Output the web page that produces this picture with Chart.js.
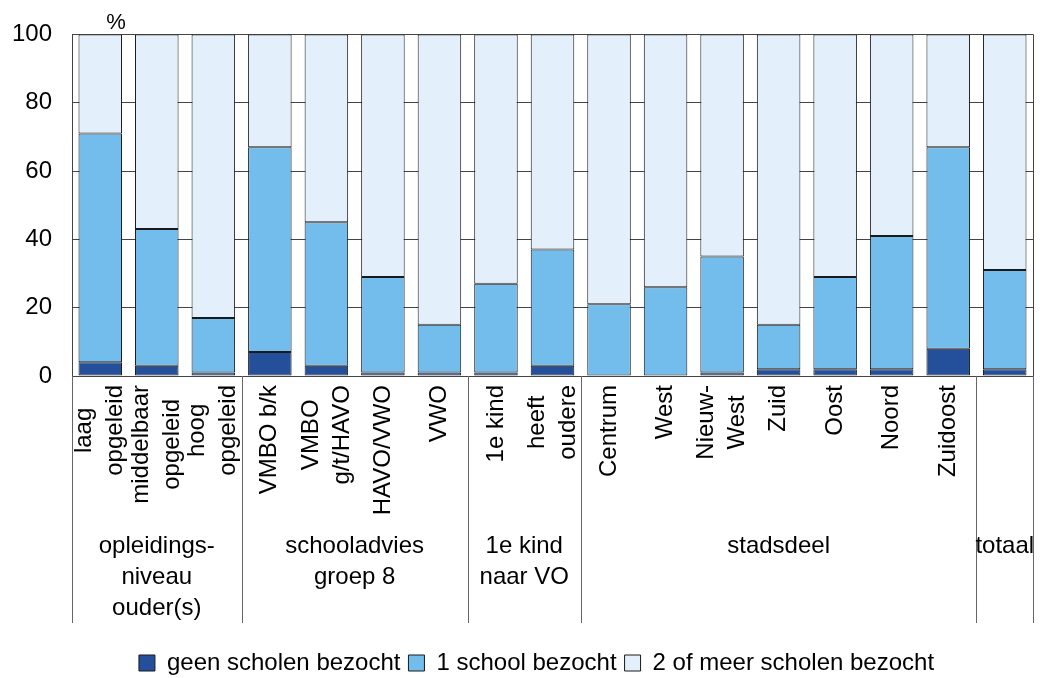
<!DOCTYPE html>
<html>
<head>
<meta charset="utf-8">
<script src="https://cdn.jsdelivr.net/npm/chart.js@4"></script>
<style>
html, body { margin: 0; padding: 0; background: #fff; }
#wrap { width: 1042px; height: 678px; }
</style>
</head>
<body>
<div id="wrap"><canvas id="grafiek"></canvas></div>
<script>
// categorieen (regels van het gedraaide label)
const categorieen = [
    ['laag', 'opgeleid'], ['middelbaar', 'opgeleid'], ['hoog', 'opgeleid'],
    ['VMBO b/k'], ['VMBO', 'g/t/HAVO'], ['HAVO/VWO'], ['VWO'],
    ['1e kind'], ['heeft', 'oudere'],
    ['Centrum'], ['West'], ['Nieuw-', 'West'], ['Zuid'], ['Oost'], ['Noord'], ['Zuidoost'],
    ['']
];

// groepen onder de as
const groepNamen = [['opleidings-', 'niveau', 'ouder(s)'], ['schooladvies', 'groep 8'], ['1e kind', 'naar VO'], ['stadsdeel'], ['totaal']];
const groepStart = [0, 3, 7, 9, 16];
const groepEind  = [2, 6, 8, 15, 16];

// percentages
const geenScholen   = [4, 3, 1, 7, 3, 1, 1, 1, 3, 0, 0, 1, 2, 2, 2, 8, 2];
const eenSchool     = [67, 40, 16, 60, 42, 28, 14, 26, 34, 21, 26, 34, 13, 27, 39, 59, 29];
const tweeOfMeer    = [29, 57, 83, 33, 55, 71, 85, 73, 63, 79, 74, 65, 85, 71, 59, 33, 69];

const reeksNamen = ['geen scholen bezocht', '1 school bezocht', '2 of meer scholen bezocht'];
const yTicks = [0, 20, 40, 60, 80, 100];

const FONT = '"Liberation Sans", Arial, sans-serif';

// legenda iets naar rechts, zoals in het origineel
const legendaSchuif = {
    id: 'legendaSchuif',
    afterLayout(chart) {
        if (chart.legend) chart.legend.left += 40;
    }
};

// tekst en lijnen onder de grafiek
const asTekst = {
    id: 'asTekst',
    afterDraw(chart) {
        const { ctx, chartArea: ca, scales: { x } } = chart;
        ctx.save();
        ctx.font = '24px ' + FONT;
        ctx.fillStyle = '#000';

        // gedraaide categorielabels
        categorieen.forEach((regels, i) => {
            const cx = x.getPixelForValue(i);
            const breedte = Math.max(...regels.map(r => ctx.measureText(r).width));
            const midY = ca.bottom + 9 + breedte / 2;
            regels.forEach((r, j) => {
                const lx = cx + (j - (regels.length - 1) / 2) * 31;
                ctx.save();
                ctx.translate(lx, midY);
                ctx.rotate(-Math.PI / 2);
                ctx.textAlign = 'center';
                ctx.textBaseline = 'middle';
                ctx.fillText(r, 0, 0);
                ctx.restore();
            });
        });

        // grenzen tussen groepen
        const grens = i => {
            if (i <= 0) return ca.left;
            if (i >= categorieen.length) return ca.right;
            return (x.getPixelForValue(i - 1) + x.getPixelForValue(i)) / 2;
        };

        ctx.strokeStyle = '#666';
        ctx.lineWidth = 1;
        const lijnen = [0, ...groepEind.map(e => e + 1)];
        lijnen.forEach(i => {
            const px = Math.round(grens(i)) + 0.5;
            ctx.beginPath();
            ctx.moveTo(px, ca.bottom);
            ctx.lineTo(px, ca.bottom + 247);
            ctx.stroke();
        });

        // groepnamen
        ctx.textAlign = 'center';
        ctx.textBaseline = 'middle';
        groepNamen.forEach((regels, g) => {
            const midden = (grens(groepStart[g]) + grens(groepEind[g] + 1)) / 2;
            regels.forEach((r, j) => {
                ctx.fillText(r, midden, ca.bottom + 170 + j * 31);
            });
        });

        // rechterrand
        ctx.strokeStyle = '#444';
        ctx.beginPath();
        ctx.moveTo(Math.round(ca.right) + 0.5, ca.top);
        ctx.lineTo(Math.round(ca.right) + 0.5, ca.bottom);
        ctx.stroke();

        // eenheid
        ctx.font = '22px ' + FONT;
        ctx.fillText('%', ca.left + 44, ca.top - 11);
        ctx.restore();
    }
};

const ctx = document.getElementById('grafiek').getContext('2d');

new Chart(ctx, {
    type: 'bar',
    data: {
        labels: categorieen.map(r => r.join(' ')),
        datasets: [
            { label: reeksNamen[0], data: geenScholen, backgroundColor: '#24509B' },
            { label: reeksNamen[1], data: eenSchool, backgroundColor: '#72BDEC' },
            { label: reeksNamen[2], data: tweeOfMeer, backgroundColor: '#E3F0FB' }
        ].map(d => Object.assign(d, {
            borderColor: '#1a1a1a',
            borderWidth: 1,
            borderSkipped: false,
            barPercentage: 0.77,
            categoryPercentage: 1
        }))
    },
    options: {
        responsive: true,
        maintainAspectRatio: false,
        animation: false,
        layout: { padding: { top: 32, right: 9, bottom: -7, left: 0 } },
        plugins: {
            tooltip: { enabled: false },
            legend: {
                position: 'bottom',
                labels: {
                    color: '#000',
                    font: { size: 24, family: FONT },
                    boxWidth: 16,
                    boxHeight: 16,
                    padding: 8
                }
            }
        },
        scales: {
            x: {
                stacked: true,
                grid: { display: false },
                border: { display: false },
                ticks: { display: false },
                afterFit: s => { s.height = 267; }
            },
            y: {
                stacked: true,
                min: 0,
                max: 100,
                afterBuildTicks: s => { s.ticks = yTicks.map(v => ({ value: v })); },
                afterFit: s => { s.width = 72; },
                grid: { color: '#444', lineWidth: 1, drawTicks: false },
                border: { color: '#444' },
                ticks: {
                    color: '#000',
                    padding: 20,
                    font: { size: 24, family: FONT }
                }
            }
        }
    },
    plugins: [legendaSchuif, asTekst]
});
</script>
</body>
</html>
